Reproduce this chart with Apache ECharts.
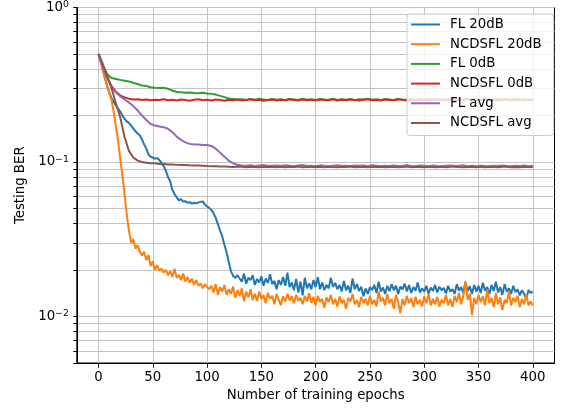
<!DOCTYPE html>
<html><head><meta charset="utf-8">
<script src="https://cdn.jsdelivr.net/npm/echarts@6/dist/echarts.min.js"></script>
<style>html,body{margin:0;padding:0;background:#fff}#c{width:562px;height:408px}</style>
</head><body><div id="c"></div>
<script>
// x positions (epochs)
const epochsStep2 = []; for (let e = 0; e <= 400; e += 2) epochsStep2.push(e);
const epochsStep4 = []; for (let e = 0; e <= 400; e += 4) epochsStep4.push(e);

const seriesNames = ['FL 20dB', 'NCDSFL 20dB', 'FL 0dB', 'NCDSFL 0dB', 'FL avg', 'NCDSFL avg'];
const xTicks = [0, 50, 100, 150, 200, 250, 300, 350, 400];
const yMajorTicks = [0.01, 0.1, 1];
const yMinorTicks = [0.005, 0.006, 0.007, 0.008, 0.009, 0.02, 0.03, 0.04, 0.05, 0.06, 0.07, 0.08, 0.09, 0.2, 0.3, 0.4, 0.5, 0.6, 0.7, 0.8, 0.9];

// FL 20dB (every 2 epochs)
const fl20 = [
0.5,0.45,0.40,0.35,0.31,0.28,0.26,0.245,0.232,0.222,
0.212,0.200,0.190,0.183,0.179,0.172,0.165,0.158,0.153,0.149,
0.140,0.130,0.122,0.112,0.108,0.107,0.105,0.106,0.103,0.099,
0.094,0.088,0.080,0.075,0.066,0.062,0.059,0.0565,0.0575,0.0555,
0.0558,0.0545,0.0550,0.0538,0.0545,0.0540,0.0548,0.0552,0.0556,0.0530,
0.0515,0.0505,0.0488,0.0465,0.0435,0.0395,0.0360,0.0330,0.0290,0.0260,
0.0225,0.0196,0.0183,0.0178,0.0185,0.0176,0.0168,0.0190,0.0163,0.0178,
0.0172,0.0185,0.0160,0.0175,0.0166,0.0182,0.0158,0.0176,0.0165,0.0188,
0.0162,0.0170,0.0150,0.0172,0.0160,0.0180,0.0158,0.0192,0.0155,0.0166,
0.0148,0.0175,0.0143,0.0168,0.0137,0.0178,0.0152,0.0164,0.0150,0.0172,
0.0155,0.0180,0.0150,0.0166,0.0148,0.0160,0.0152,0.0178,0.0156,0.0165,
0.0150,0.0160,0.0145,0.0170,0.0148,0.0158,0.0142,0.0176,0.0150,0.0162,
0.0146,0.0156,0.0135,0.0152,0.0140,0.0155,0.0148,0.0160,0.0142,0.0168,
0.0145,0.0154,0.0140,0.0158,0.0146,0.0162,0.0148,0.0158,0.0140,0.0156,
0.0150,0.0163,0.0145,0.0160,0.0142,0.0155,0.0147,0.0166,0.0143,0.0152,
0.0145,0.0158,0.0140,0.0154,0.0146,0.0160,0.0143,0.0156,0.0148,0.0153,
0.0141,0.0158,0.0145,0.0150,0.0140,0.0162,0.0147,0.0155,0.0142,0.0168,
0.0146,0.0157,0.0140,0.0160,0.0145,0.0158,0.0142,0.0165,0.0147,0.0155,
0.0140,0.0160,0.0146,0.0168,0.0143,0.0155,0.0138,0.0162,0.0145,0.0152,
0.0140,0.0158,0.0144,0.0150,0.0137,0.0148,0.0140,0.0130,0.0148,0.0142,
0.0145];

// NCDSFL 20dB (every 2 epochs)
const ncdsfl20 = [
0.5,0.44,0.39,0.345,0.31,0.28,0.25,0.21,0.17,0.138,
0.105,0.082,0.062,0.046,0.036,0.030,0.0318,0.0275,0.0290,0.0262,
0.0248,0.0262,0.0232,0.0250,0.0212,0.0228,0.0200,0.0215,0.0198,0.0205,
0.0192,0.0200,0.0185,0.0196,0.0180,0.0204,0.0178,0.0186,0.0172,0.0190,
0.0168,0.0180,0.0165,0.0176,0.0160,0.0172,0.0158,0.0164,0.0152,0.0162,
0.0155,0.0150,0.0158,0.0143,0.0162,0.0138,0.0155,0.0145,0.0160,0.0138,
0.0150,0.0140,0.0156,0.0132,0.0148,0.0136,0.0152,0.0126,0.0145,0.0133,
0.0150,0.0128,0.0140,0.0126,0.0145,0.0130,0.0138,0.0122,0.0142,0.0130,
0.0136,0.0120,0.0140,0.0128,0.0118,0.0135,0.0125,0.0140,0.0127,0.0135,
0.0122,0.0138,0.0126,0.0132,0.0120,0.0136,0.0125,0.0142,0.0122,0.0134,
0.0118,0.0136,0.0124,0.0130,0.0114,0.0133,0.0124,0.0138,0.0120,0.0130,
0.0116,0.0135,0.0122,0.0128,0.0112,0.0132,0.0125,0.0140,0.0120,0.0128,
0.0115,0.0134,0.0122,0.0130,0.0118,0.0136,0.0120,0.0128,0.0116,0.0145,
0.0125,0.0132,0.0118,0.0140,0.0122,0.0130,0.0112,0.0138,0.0124,0.0105,
0.0130,0.0118,0.0136,0.0122,0.0132,0.0115,0.0134,0.0120,0.0128,0.0116,
0.0135,0.0122,0.0140,0.0118,0.0130,0.0120,0.0134,0.0116,0.0128,0.0122,
0.0138,0.0118,0.0130,0.0115,0.0136,0.0124,0.0142,0.0120,0.0135,0.0168,
0.0128,0.0140,0.0102,0.0132,0.0120,0.0138,0.0124,0.0135,0.0118,0.0150,
0.0122,0.0132,0.0115,0.0142,0.0120,0.0133,0.0110,0.0128,0.0122,0.0145,
0.0118,0.0132,0.0124,0.0136,0.0115,0.0130,0.0120,0.0140,0.0118,0.0125,
0.0118];

// FL 0dB (every 4 epochs)
const fl0 = [
0.5,0.42,0.37,0.35,0.345,0.34,0.336,0.332,0.326,0.32,
0.313,0.31,0.305,0.302,0.301,0.302,0.298,0.29,0.284,0.283,
0.281,0.282,0.280,0.279,0.281,0.278,0.276,0.273,0.268,0.263,
0.258,0.256,0.254,0.255,0.252,0.256,0.253,0.257,0.254,0.252,
0.256,0.253,0.255,0.251,0.256,0.254,0.252,0.257,0.253,0.255,
0.252,0.256,0.254,0.253,0.257,0.252,0.255,0.253,0.256,0.251,
0.255,0.254,0.257,0.253,0.255,0.252,0.256,0.254,0.252,0.256,
0.254,0.253,0.256,0.252,0.255,0.253,0.257,0.254,0.252,0.255,
0.253,0.256,0.252,0.255,0.254,0.257,0.253,0.255,0.252,0.256,
0.254,0.253,0.256,0.252,0.255,0.254,0.257,0.253,0.255,0.252,
0.254];

// NCDSFL 0dB (every 4 epochs)
const ncdsfl0 = [
0.5,0.42,0.355,0.31,0.285,0.27,0.262,0.257,0.254,0.255,
0.252,0.254,0.251,0.253,0.252,0.255,0.251,0.253,0.250,0.254,
0.252,0.249,0.253,0.255,0.251,0.253,0.250,0.254,0.252,0.249,
0.253,0.251,0.254,0.250,0.252,0.255,0.251,0.253,0.249,0.252,
0.254,0.250,0.253,0.251,0.255,0.252,0.250,0.254,0.251,0.253,
0.250,0.254,0.252,0.251,0.255,0.250,0.253,0.251,0.254,0.252,
0.250,0.253,0.255,0.251,0.252,0.250,0.254,0.252,0.251,0.255,
0.252,0.250,0.253,0.251,0.254,0.252,0.250,0.253,0.255,0.251,
0.252,0.254,0.250,0.253,0.251,0.255,0.252,0.250,0.253,0.251,
0.254,0.252,0.250,0.253,0.255,0.251,0.252,0.254,0.250,0.253,
0.252];

// FL avg (every 4 epochs)
const flAvg = [
0.5,0.41,0.35,0.305,0.282,0.266,0.254,0.243,0.23,0.216,
0.2,0.187,0.176,0.172,0.170,0.168,0.164,0.156,0.146,0.139,
0.134,0.131,0.130,0.130,0.129,0.129,0.127,0.122,0.115,0.108,
0.102,0.098,0.096,0.095,0.0945,0.0952,0.0940,0.0948,0.0955,0.0942,
0.0946,0.0950,0.0941,0.0953,0.0945,0.0938,0.0949,0.0955,0.0943,0.0947,
0.0940,0.0951,0.0945,0.0938,0.0947,0.0953,0.0942,0.0946,0.0939,0.0950,
0.0944,0.0948,0.0940,0.0952,0.0945,0.0938,0.0947,0.0943,0.0950,0.0941,
0.0946,0.0953,0.0942,0.0939,0.0948,0.0944,0.0940,0.0950,0.0943,0.0937,
0.0945,0.0949,0.0941,0.0946,0.0952,0.0940,0.0944,0.0938,0.0947,0.0942,
0.0939,0.0946,0.0943,0.0950,0.0941,0.0938,0.0945,0.0942,0.0948,0.0940,
0.0944];

// NCDSFL avg (every 4 epochs)
const ncdsflAvg = [
0.5,0.43,0.36,0.30,0.24,0.195,0.145,0.118,0.107,0.102,
0.100,0.099,0.098,0.098,0.097,0.0972,0.0965,0.0962,0.0958,0.0955,
0.0957,0.0953,0.0950,0.0948,0.0945,0.0942,0.0940,0.0938,0.0936,0.0934,
0.0932,0.0928,0.0935,0.0930,0.0926,0.0933,0.0929,0.0924,0.0931,0.0927,
0.0933,0.0926,0.0930,0.0924,0.0932,0.0928,0.0935,0.0925,0.0929,0.0931,
0.0926,0.0930,0.0923,0.0933,0.0928,0.0925,0.0931,0.0927,0.0934,0.0924,
0.0929,0.0932,0.0925,0.0930,0.0927,0.0933,0.0924,0.0929,0.0931,0.0926,
0.0928,0.0934,0.0925,0.0930,0.0927,0.0923,0.0932,0.0928,0.0926,0.0931,
0.0925,0.0930,0.0933,0.0927,0.0924,0.0929,0.0932,0.0926,0.0930,0.0925,
0.0931,0.0927,0.0924,0.0930,0.0933,0.0926,0.0929,0.0925,0.0932,0.0928,
0.0927];

const colors = ['#1f77b4', '#ff7f0e', '#2ca02c', '#d62728', '#9467bd', '#8c564b'];
const FONT = 'DejaVu Sans';
const FS = 13.3;

function pairs(xs, ys) { return ys.map((y, i) => [xs[i], y]); }
const seriesData = [
  pairs(epochsStep2, fl20), pairs(epochsStep2, ncdsfl20),
  pairs(epochsStep4, fl0), pairs(epochsStep4, ncdsfl0),
  pairs(epochsStep4, flAvg), pairs(epochsStep4, ncdsflAvg)
];

function powLabel(v) {
  const ex = Math.round(Math.log10(v));
  const s = ex < 0 ? '\u2212' + (-ex) : String(ex);
  return '{b|10}{e|' + s + '}';
}

const chart = echarts.init(document.getElementById('c'), null, {renderer: 'canvas'});
const gridLine = {show: true, lineStyle: {color: '#c4c4c4', width: 1}};
chart.setOption({
  animation: false,
  backgroundColor: '#fff',
  textStyle: {fontFamily: FONT},
  grid: {left: 76.8, right: 7.5, top: 7.5, bottom: 45, show: true, borderColor: '#000', borderWidth: 1, backgroundColor: 'rgba(0,0,0,0)'},
  legend: {
    orient: 'vertical', left: 407, top: 14,
    icon: 'rect', itemWidth: 29, itemHeight: 2, itemGap: 4.7,
    padding: [3, 12, 5, 4],
    backgroundColor: 'rgba(255,255,255,0.8)', borderColor: '#cccccc', borderWidth: 1, borderRadius: 3,
    textStyle: {fontFamily: FONT, fontSize: FS, color: '#000', lineHeight: 15, padding: [0, 0, 0, 5]},
    data: seriesNames
  },
  xAxis: {
    type: 'value', min: -20, max: 420, position: 'bottom',
    name: 'Number of training epochs', nameLocation: 'middle', nameGap: 26,
    nameTextStyle: {fontFamily: FONT, fontSize: FS, color: '#000'},
    axisLine: {show: true, onZero: false, lineStyle: {color: '#000', width: 1}},
    axisTick: {show: true, inside: false, length: 4.7, customValues: xTicks, lineStyle: {color: '#000', width: 1}},
    axisLabel: {customValues: xTicks, margin: 8, fontFamily: FONT, fontSize: FS, color: '#000'},
    splitLine: gridLine
  },
  yAxis: {
    type: 'log', logBase: 10, min: 0.005, max: 1, position: 'left',
    name: 'Testing BER', nameLocation: 'middle', nameGap: 45, nameRotate: 90,
    nameTextStyle: {fontFamily: FONT, fontSize: FS, color: '#000'},
    axisLine: {show: true, onZero: false, lineStyle: {color: '#000', width: 1}},
    axisTick: {show: true, inside: false, length: 3.5, customValues: yMajorTicks.concat(yMinorTicks), lineStyle: {color: '#000', width: 1}},
    axisLabel: {customValues: yMajorTicks, margin: 8, formatter: powLabel,
      rich: {
        b: {fontFamily: FONT, fontSize: FS, color: '#000', lineHeight: 14, verticalAlign: 'middle'},
        e: {fontFamily: FONT, fontSize: 9.3, color: '#000', lineHeight: 6, verticalAlign: 'top'}
      }},
    splitLine: gridLine
  },
  series: seriesNames.map((n, i) => ({
    name: n, type: 'line', data: seriesData[i],
    showSymbol: false, symbol: 'none', smooth: false,
    lineStyle: {color: colors[i], width: 2}, itemStyle: {color: colors[i]},
    emphasis: {disabled: true}
  }))
});
</script></body></html>
